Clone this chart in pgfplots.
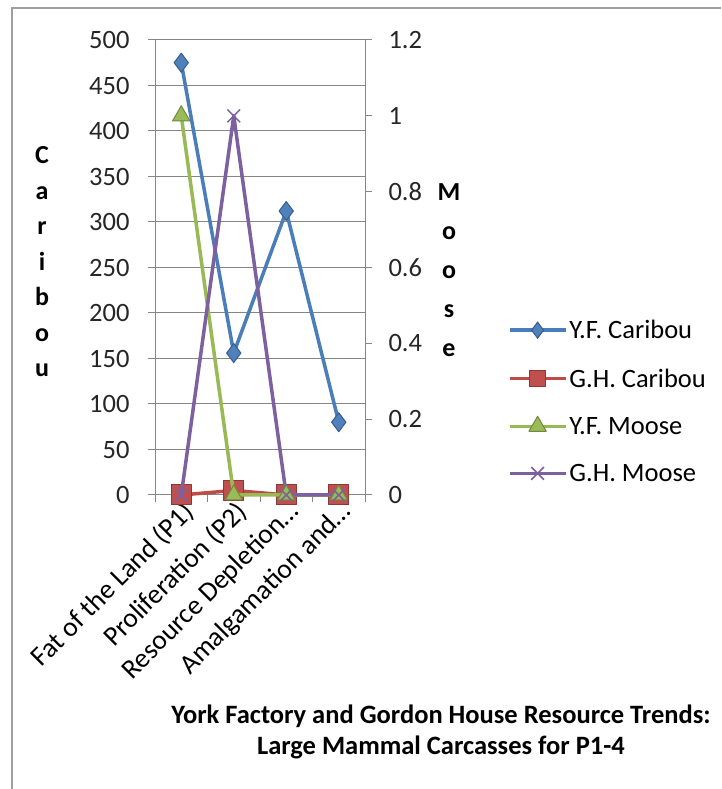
\documentclass[border=0pt]{standalone}
\usepackage{pgfplots}
\pgfplotsset{compat=1.18}
\usepackage{fontspec}
\setmainfont{Carlito}
\definecolor{cblue}{HTML}{4A7EBB}
\definecolor{cbluef}{HTML}{4F81BD}
\definecolor{cblued}{HTML}{385D8A}
\definecolor{cred}{HTML}{BE4B48}
\definecolor{credf}{HTML}{C0504D}
\definecolor{credd}{HTML}{8C3836}
\definecolor{cgreen}{HTML}{98B954}
\definecolor{cgreenf}{HTML}{9BBB59}
\definecolor{cgreend}{HTML}{71893F}
\definecolor{cpurple}{HTML}{7D60A0}
\definecolor{axgray}{HTML}{868686}
\pgfplotsset{base/.style={scale only axis, width=210pt, height=455pt,
  at={(155pt,294pt)}, anchor=south west, xmin=-0.5, xmax=3.5, clip=false,
  font=\fontsize{26.5}{30}\selectfont,
  /pgf/number format/assume math mode=true,
  tick align=outside, major tick length=7pt,
  every tick/.style={axgray, line width=1pt},
  axis line style={axgray, line width=1pt, -},
  legend image code/.code={\draw[##1, mark repeat=2, mark phase=2] plot coordinates {(0pt,0pt) (28pt,0pt) (56pt,0pt)};}
}}
\begin{document}
\begin{tikzpicture}[x=1pt,y=1pt]
\useasboundingbox (0,0) rectangle (721,789);
\fill[white] (0,0) rectangle (721,789);
\draw[gray!75, line width=2.5pt] (12,0) -- (12,781) -- (721,781);

\begin{axis}[base, ymin=0, ymax=500, ytick={0,50,100,150,200,250,300,350,400,450,500},
  ymajorgrids, grid style={axgray, line width=1pt},
  axis x line*=bottom, axis y line*=left,
  xtick={-0.5,0.5,1.5,2.5,3.5}, xticklabels={},
  extra x ticks={0,1,2,3},
  extra x tick labels={Fat of the Land (P1), Proliferation (P2), Resource Depletion…, Amalgamation and…},
  extra x tick style={major tick length=0pt, tick label style={rotate=45, anchor=north east, inner sep=3pt, font=\fontsize{27.5}{30}\selectfont}},
  yticklabel style={xshift=-15pt, text=black!85}]
\addplot[cblue, line width=3.5pt, line join=round, mark=diamond*, mark size=9.5pt,
  mark options={fill=cbluef, draw=cblued, line width=1pt}]
  coordinates {(0,475) (1,156) (2,312) (3,80)};
\addplot[cred, line width=3.5pt, line join=round, mark=square*, mark size=10pt,
  mark options={fill=credf, draw=credd, line width=1pt}]
  coordinates {(0,0) (1,5) (2,0) (3,0)};
\end{axis}

\begin{axis}[base, ymin=0, ymax=1.2, ytick={0,0.2,0.4,0.6,0.8,1,1.2},
  axis y line*=right, axis x line=none,
  yticklabel style={xshift=13pt, text=black!85},
  legend style={at={(1.665,0.2055)}, anchor=west, draw=none, fill=none,
    font=\fontsize{26.5}{30}\selectfont, row sep=24.5pt,
    nodes={inner sep=2pt}},
  legend cell align=left]
\addlegendimage{cblue, line width=3.5pt, mark=diamond*, mark size=8pt, mark options={fill=cbluef, draw=cblued, line width=1pt}}
\addlegendentry{Y.F. Caribou}
\addlegendimage{cred, line width=3.5pt, mark=square*, mark size=8pt, mark options={fill=credf, draw=credd, line width=1pt}}
\addlegendentry{G.H. Caribou}
\addplot[cgreen, line width=3.5pt, line join=round, mark=triangle*, mark size=10pt,
  mark options={fill=cgreenf, draw=cgreend, line width=1pt}]
  coordinates {(0,1) (1,0) (2,0) (3,0)};
\addlegendentry{Y.F. Moose}
\addplot[cpurple, line width=3.5pt, line join=round, mark=x, mark size=9pt,
  mark options={draw=cpurple, line width=1.5pt}]
  coordinates {(0,0) (1,1) (2,0) (3,0)};
\addlegendentry{G.H. Moose}
\end{axis}

\node[align=center, font=\fontsize{26}{35.5}\selectfont\bfseries] at (42,527) {C\\a\\r\\i\\b\\o\\u};
\node[align=center, font=\fontsize{26}{39}\selectfont\bfseries] at (449,519) {M\\o\\o\\s\\e};
\node[align=center, font=\fontsize{26.5}{30.5}\selectfont\bfseries] at (441,57)
  {York Factory and Gordon House Resource Trends:\\Large Mammal Carcasses for P1-4};
\end{tikzpicture}
\end{document}
